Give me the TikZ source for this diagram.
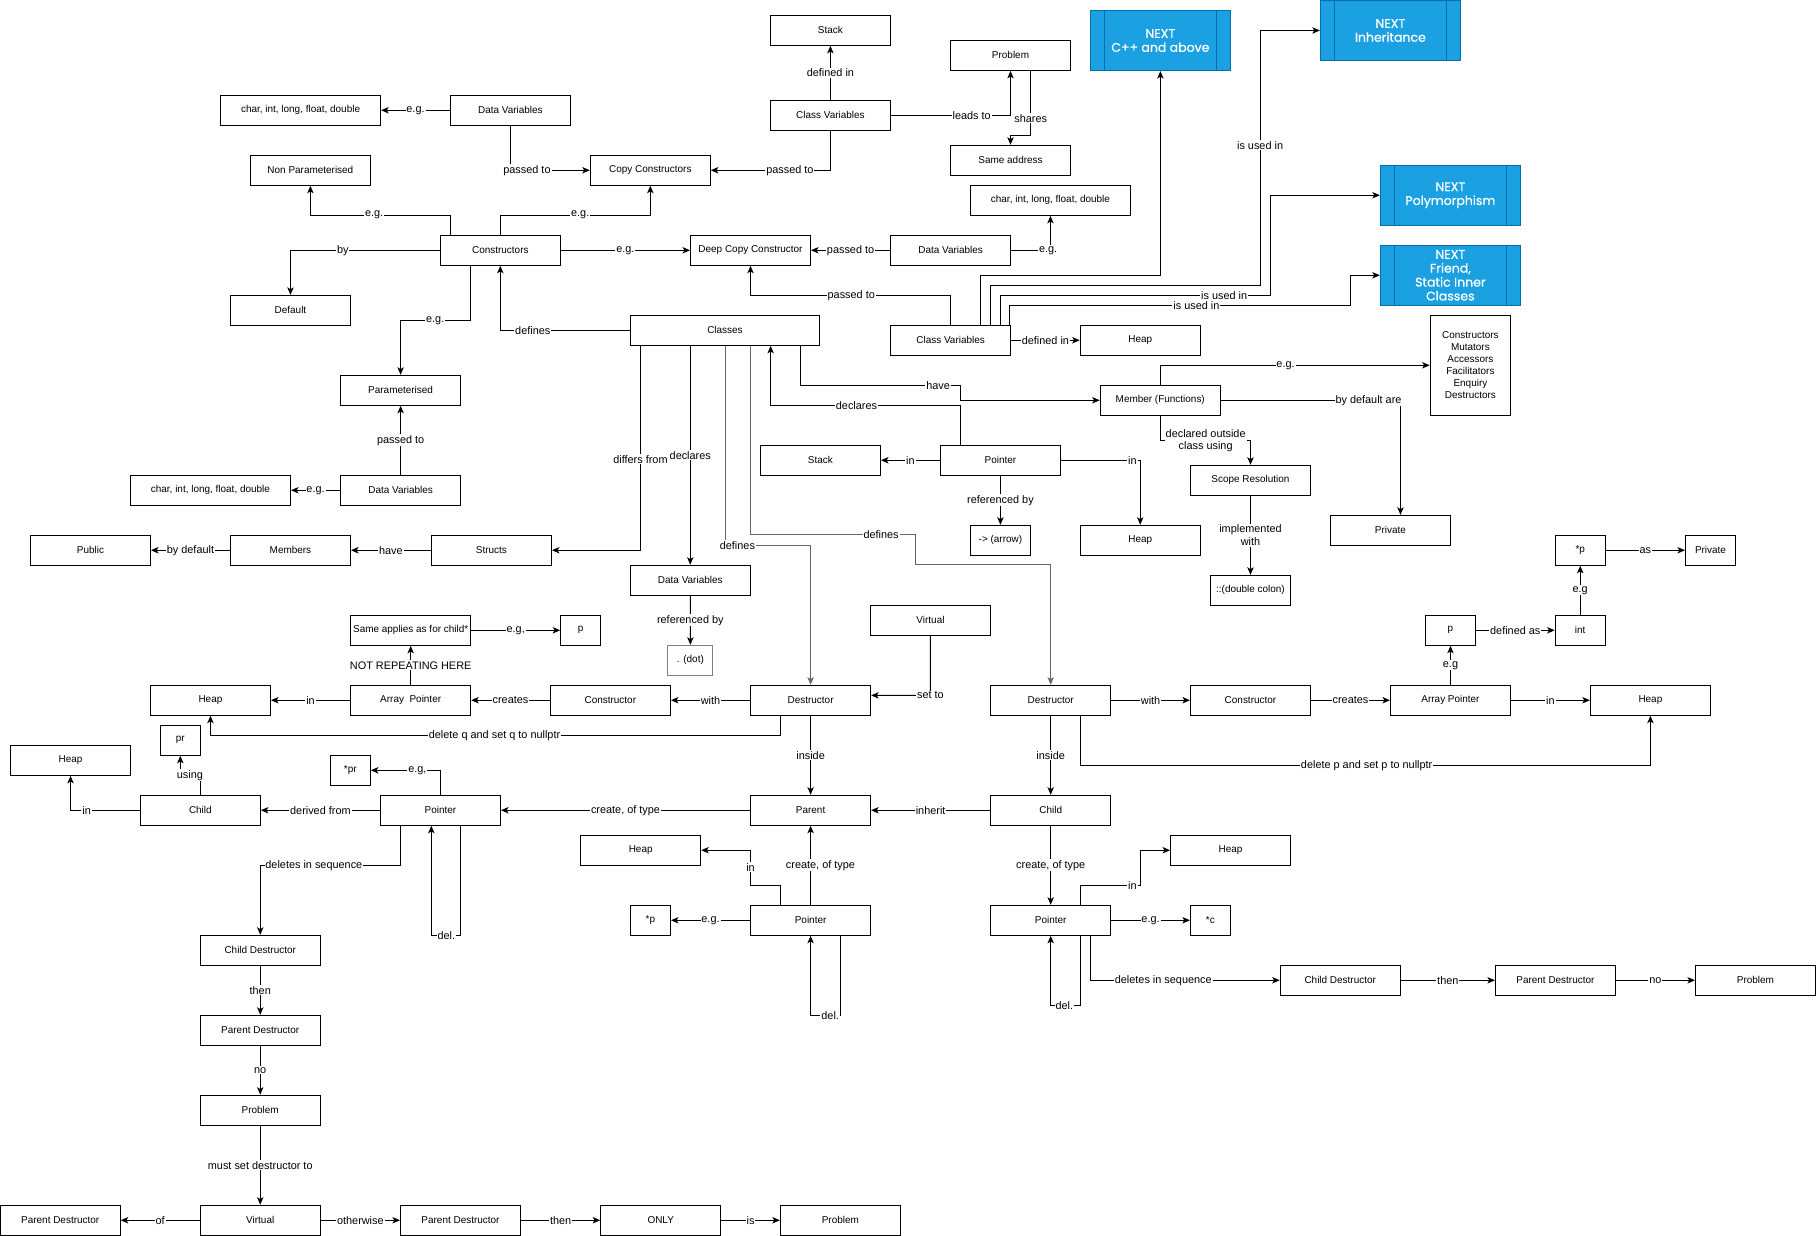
\documentclass[tikz,border=0pt]{standalone}
\usepackage{fontspec}
\setmainfont{Liberation Sans}
\newfontfamily\nextfont[FakeBold=0.6]{Poppins}
\usetikzlibrary{arrows.meta}
\definecolor{nextfill}{HTML}{1BA1E2}
\definecolor{nextline}{HTML}{006EAF}

\tikzset{
  box/.style={draw=black, line width=0.85pt, fill=white, minimum width=103.6pt, minimum height=25.9pt,
    inner sep=0pt, align=center, font=\fontsize{8.6}{10.4}\selectfont},
  sbox/.style={box, minimum width=34.5pt},
  mbox/.style={box, minimum width=43.2pt},
  wbox/.style={box, minimum width=138.3pt},
  nextbox/.style={draw=nextline, fill=nextfill, line width=0.85pt, minimum width=120.9pt, minimum height=51.8pt,
    inner sep=0pt, text=white, align=center, font=\nextfont\fontsize{10.8}{12}\selectfont,
    path picture={\draw[nextline, line width=0.85pt]
      ([xshift=12.1pt]path picture bounding box.north west) -- ([xshift=12.1pt]path picture bounding box.south west)
      ([xshift=-12.1pt]path picture bounding box.north east) -- ([xshift=-12.1pt]path picture bounding box.south east);}},
  lbl/.style={fill=white, inner sep=0.8pt, align=center, font=\fontsize{9.4}{11}\selectfont},
  arr/.style={draw=black, line width=0.85pt, -{Stealth[length=6.5pt, width=5.5pt, inset=1.6pt]}},
  defl/.style={draw=black!60, line width=0.7pt},
}

\begin{document}
\begin{tikzpicture}[x=1pt, y=-1pt]
\fill[white] (0,0) rectangle (1568,1067);
\useasboundingbox (0,0) rectangle (1568,1067);

% ---------- boxes ----------
\node[box] (stackT) at (717,26.2) {Stack};
\node[box] (probT) at (872.5,47.8) {Problem};
\node[nextbox] (nCpp) at (1001.9,35) {NEXT\\C++ and above};
\node[nextbox] (nInh) at (1200.5,26.3) {NEXT\\Inheritance};
\node[wbox] (charT) at (259.5,95.2) {char, int, long, float, double};
\node[box] (dvT) at (440.7,95.2) {Data Variables};
\node[box] (cvT) at (717,99.6) {Class Variables};
\node[box] (same) at (872.5,138.4) {Same address};
\node[box] (nonpar) at (268,147) {Non Parameterised};
\node[box] (copyc) at (561.5,147) {Copy Constructors};
\node[wbox] (charR) at (907,173) {char, int, long, float, double};
\node[nextbox] (nPoly) at (1252.3,168.6) {NEXT\\Polymorphism};
\node[box] (ctors) at (432,216.1) {Constructors};
\node[box] (deep) at (648,216.1) {Deep Copy Constructor};
\node[box] (dvR) at (820.8,216.1) {Data Variables};
\node[nextbox] (nFriend) at (1252.3,237.7) {NEXT\\Friend,\\Static Inner\\Classes};
\node[box] (default) at (250.8,268) {Default};
\node[box, minimum width=164pt] (classes) at (626,285.2) {Classes};
\node[box] (cvM) at (820.8,293.8) {Class Variables};
\node[box] (heapCV) at (984.5,293.8) {Heap};
\node[box, minimum width=69.4pt, minimum height=86.3pt] (fnlist) at (1269.6,315.4)
  {Constructors\\Mutators\\Accessors\\Facilitators\\Enquiry\\Destructors};
\node[box] (param) at (345.9,337) {Parameterised};
\node[box] (member) at (1001.8,345.6) {Member (Functions)};
\node[box] (stackM) at (708.4,397.4) {Stack};
\node[box] (ptrM) at (863.8,397.4) {Pointer};
\node[box] (scope) at (1079.7,414.7) {Scope Resolution};
\node[box] (dvL) at (345.9,423.3) {Data Variables};
\node[wbox] (charL) at (181.7,423.3) {char, int, long, float, double};
\node[box, minimum width=51.8pt] (arrowop) at (863.8,466.5) {-> (arrow)};
\node[box] (heapP) at (984.5,466.5) {Heap};
\node[box] (privM) at (1200.5,457.9) {Private};
\node[box] (public) at (78.1,475.1) {Public};
\node[box] (members) at (250.8,475.1) {Members};
\node[box] (structs) at (424.3,475.1) {Structs};
\node[mbox] (starpR) at (1364.4,475.1) {*p};
\node[mbox] (privR) at (1476.9,475.1) {Private};
\node[box] (dvC) at (596,501) {Data Variables};
\node[box, minimum width=69pt] (dcolon) at (1079.7,509.7) {::(double colon)};
\node[box] (virtM) at (803.4,535.6) {Virtual};
\node[box] (same2) at (354.6,544.2) {Same applies as for child*};
\node[sbox] (pL) at (501.4,544.2) {p};
\node[mbox] (pR) at (1252.3,544.2) {p};
\node[mbox] (intR) at (1364.4,544.2) {int};
\node[box, minimum width=39pt, draw=black!50] (dot) at (596.1,570.1) {. (dot)};
\node[box] (heapL) at (181.7,604.6) {Heap};
\node[box] (arrL) at (354.6,604.6) {Array\ \ Pointer};
\node[box] (conL) at (527,604.6) {Constructor};
\node[box] (desL) at (699.9,604.6) {Destructor};
\node[box] (desR) at (907.2,604.6) {Destructor};
\node[box] (conR) at (1079.7,604.6) {Constructor};
\node[box] (arrR) at (1252.4,604.6) {Array Pointer};
\node[box] (heapR) at (1425,604.6) {Heap};
\node[sbox] (pr) at (155.7,639.2) {pr};
\node[box] (heapFL) at (60.9,656.5) {Heap};
\node[sbox] (starpr) at (302.5,665.1) {*pr};
\node[box] (childL) at (173,699.6) {Child};
\node[box] (ptrL) at (380.3,699.6) {Pointer};
\node[box] (parent) at (699.9,699.6) {Parent};
\node[box] (childR) at (907.2,699.6) {Child};
\node[box] (heapML) at (553.2,734.1) {Heap};
\node[box] (heapMR) at (1062.5,734.1) {Heap};
\node[sbox] (starpC) at (561.6,794.6) {*p};
\node[box] (ptrC) at (699.9,794.6) {Pointer};
\node[box] (ptrR) at (907.2,794.6) {Pointer};
\node[sbox] (starc) at (1045.1,794.6) {*c};
\node[box] (cdL) at (224.7,820.5) {Child Destructor};
\node[box] (cdR) at (1157.2,846.4) {Child Destructor};
\node[box] (pdR) at (1343,846.4) {Parent Destructor};
\node[box] (probR) at (1515.7,846.4) {Problem};
\node[box] (pdL) at (224.7,889.6) {Parent Destructor};
\node[box] (probL) at (224.7,958.6) {Problem};
\node[box] (pdB1) at (52,1053.6) {Parent Destructor};
\node[box] (virtB) at (224.7,1053.6) {Virtual};
\node[box] (pdB2) at (397.6,1053.6) {Parent Destructor};
\node[box] (only) at (570.5,1053.6) {ONLY};
\node[box] (probB) at (725.6,1053.6) {Problem};

% ---------- top cluster ----------
\draw[arr] (cvT) -- node[lbl]{defined in} (stackT);
\draw[arr] (cvT.east) -- (839,99.6) node[lbl]{leads to} -| (probT.south);
\draw[arr] ([xshift=17.5pt]probT.south) -- (890,102) node[lbl]{shares} -- (890,117) -| (same.north);
\draw[arr] (cvT.south) |- (682,147) node[lbl]{passed to} -- (copyc.east);
\draw[arr] (dvT.south) |- (455,147) node[lbl]{passed to} -- (copyc.west);
\draw[arr] (dvT.west) -- node[lbl]{e.g.} (charT.east);
\draw[arr] ([xshift=-43.4pt]ctors.north) |- (323,185.8) node[lbl]{e.g.} -| (nonpar.south);
\draw[arr] (ctors.north) |- (501,185.8) node[lbl]{e.g.} -| (copyc.south);
\draw[arr] (ctors.west) -- (296,216.1) node[lbl]{by} -| (default.north);
\draw[arr] (ctors.east) -- node[lbl]{e.g.} (deep.west);
\draw[arr] (dvR.west) -- node[lbl]{passed to} (deep.east);
\draw[arr] (dvR.east) -- (905,216.1) node[lbl]{e.g.} -| (charR.south);
\draw[arr] (cvM.north) |- (735,255) node[lbl]{passed to} -| (deep.south);
\draw[arr] ([xshift=25.8pt]cvM.north) -- (846.6,237.7) -| (nCpp.south);
\draw[arr] ([xshift=34.5pt]cvM.north) -- (855.3,246.4) -- (1088,246.4) -- (1088,125.5) node[lbl]{is used in} |- (nInh.west);
\draw[arr] ([xshift=42.8pt]cvM.north) -- (863.6,255) -- (1057,255) node[lbl]{is used in} -- (1096.8,255) |- (nPoly.west);
\draw[arr] ([xshift=51pt]cvM.north) -- (871.8,263.6) -- (1033,263.6) node[lbl]{is used in} -- (1165.8,263.6) |- (nFriend.west);
\draw[arr] (cvM.east) -- node[lbl]{defined in} (heapCV.west);

% ---------- classes ----------
\draw[arr] (classes.west) -- (460,285.2) node[lbl]{defines} -| (ctors.south);
\draw[arr] ([xshift=-26pt]ctors.south) |- (375.8,276.6) node[lbl]{e.g.} -| (param.north);
\draw[arr] (dvL) -- node[lbl]{passed to} (param);
\draw[arr] (dvL.west) -- node[lbl]{e.g.} (charL.east);
\draw[arr] (structs.west) -- node[lbl]{have} (members.east);
\draw[arr] (members.west) -- node[lbl]{by default} (public.east);
\draw[arr] ([xshift=-73pt]classes.south) -- (553,396.6) node[lbl]{differs from} |- (structs.east);
\draw[arr] ([xshift=-30pt]classes.south) -- node[lbl]{declares} (dvC.north);
\draw[arr, defl] (classes.south) -- (626,470.8) -- (636.7,470.8) node[lbl]{defines} -| (desL.north);
\draw[arr, defl] ([xshift=22pt]classes.south) -- (648,461.4) -- (760.8,461.4) node[lbl]{defines}
  -- (790.5,461.4) -- (790.5,487.3) -| (desR.north);
\draw[arr] ([xshift=65pt]classes.south) |- (810,332.7) node[lbl]{have} -- (829.2,332.7) |- (member.west);
\draw[arr] ([xshift=-34.6pt]ptrM.north) |- (739.5,350) node[lbl]{declares} -| ([xshift=39.4pt]classes.south);
\draw[arr] (ptrM.west) -- node[lbl]{in} (stackM.east);
\draw[arr] (ptrM.east) -- (977.7,397.4) node[lbl]{in} -| (heapP.north);
\draw[arr] (ptrM.south) -- node[lbl]{referenced by} (arrowop.north);
\draw[arr] (dvC.south) -- node[lbl]{referenced by} (dot.north);

% ---------- member functions ----------
\draw[arr] (member.north) |- (1110,315.4) node[lbl]{e.g.} -- (fnlist.west);
\draw[arr] (member.east) -- (1181.6,345.6) node[lbl]{by default are} -| ([xshift=8.7pt]privM.north);
\draw[arr] (member.south) |- (1041,380.5) node[lbl]{declared outside\\class using} -| (scope.north);
\draw[arr] (scope.south) -- node[lbl]{implemented\\with} (dcolon.north);

% ---------- child destructor side ----------
\draw[arr] (starpR.east) -- node[lbl]{as} (privR.west);
\draw[arr] (intR.north) -- node[lbl]{e.g} (starpR.south);
\draw[arr] (pR.east) -- node[lbl]{defined as} (intR.west);
\draw[arr] (arrR.north) -- node[lbl]{e.g} (arrR.north |- pR.south);
\draw[arr] (conR.east) -- node[lbl]{creates} (arrR.west);
\draw[arr] (arrR.east) -- node[lbl]{in} (heapR.west);
\draw[arr] (desR.east) -- node[lbl]{with} (conR.west);
\draw[arr] ([xshift=25.5pt]desR.south) |- (1180,660.8) node[lbl]{delete p and set p to nullptr} -| (heapR.south);
\draw[arr] (desR) -- node[lbl]{inside} (childR);
\draw[arr] (childR) -- node[lbl]{inherit} (parent);

% ---------- parent destructor side ----------
\draw[arr] (virtM.south) -- (803.4,600.4) node[lbl]{set to} -- ([yshift=4.2pt]desL.east);
\draw[arr] (desL.west) -- node[lbl]{with} (conL.east);
\draw[arr] (conL.west) -- node[lbl]{creates} (arrL.east);
\draw[arr] (arrL.west) -- node[lbl]{in} (heapL.east);
\draw[arr] (arrL.north) -- node[lbl]{NOT REPEATING HERE} (same2.south);
\draw[arr] (same2.east) -- node[lbl]{e.g,} (pL.west);
\draw[arr] ([xshift=-26.2pt]desL.south) |- (427,634.9) node[lbl]{delete q and set q to nullptr} -| (heapL.south);
\draw[arr] (desL) -- node[lbl]{inside} (parent);
\draw[arr] (parent.west) -- node[lbl]{create, of type} (ptrL.east);

% ---------- pointer of parent type ----------
\draw[arr] (ptrL.north) |- (360.4,665.1) node[lbl]{e.g,} -- (starpr.east);
\draw[arr] (ptrL.west) -- node[lbl]{derived from} (childL.east);
\draw[arr] (childL.west) -- (74.8,699.6) node[lbl]{in} -| (heapFL.south);
\draw[arr] (childL.north) -- (173,669.4) -- (164,669.4) node[lbl]{using} -- (155.7,669.4) -- (pr.south);
\draw[arr] ([xshift=-34.6pt]ptrL.south) |- (271,747.1) node[lbl]{deletes in sequence} -| (cdL.north);
\draw[arr] ([xshift=17.1pt]ptrL.south) |- (385.4,807.6) node[lbl]{del.} -| ([xshift=-7.9pt]ptrL.south);
\draw[arr] (cdL) -- node[lbl]{then} (pdL);
\draw[arr] (pdL) -- node[lbl]{no} (probL);
\draw[arr] (probL) -- node[lbl]{must set destructor to} (virtB);
\draw[arr] (virtB) -- node[lbl]{of} (pdB1);
\draw[arr] (virtB) -- node[lbl]{otherwise} (pdB2);
\draw[arr] (pdB2) -- node[lbl]{then} (only);
\draw[arr] (only) -- node[lbl]{is} (probB);

% ---------- parent pointer ----------
\draw[arr] (ptrC) -- node[lbl, xshift=8.5pt]{create, of type} (parent);
\draw[arr] ([xshift=-26.2pt]ptrC.north) -- (673.7,764.4) -- (648,764.4) -- (648,748.9) node[lbl]{in} |- (heapML.east);
\draw[arr] (ptrC.west) -- node[lbl]{e.g.} (starpC.east);
\draw[arr] ([xshift=25.6pt]ptrC.south) |- (716.8,876.9) node[lbl]{del.} -| (ptrC.south);

% ---------- child pointer ----------
\draw[arr] (childR) -- node[lbl]{create, of type} (ptrR);
\draw[arr] ([xshift=25.5pt]ptrR.north) |- (977.7,764.4) node[lbl]{in} -| (984.7,734.1) -- (heapMR.west);
\draw[arr] (ptrR.east) -- node[lbl]{e.g.} (starc.west);
\draw[arr] ([xshift=25.5pt]ptrR.south) |- (919,868) node[lbl]{del.} -| (ptrR.south);
\draw[arr] ([xshift=34.2pt]ptrR.south) |- (1004.4,846.4) node[lbl]{deletes in sequence} -- (cdR.west);
\draw[arr] (cdR) -- node[lbl]{then} (pdR);
\draw[arr] (pdR) -- node[lbl]{no} (probR);
\end{tikzpicture}
\end{document}
